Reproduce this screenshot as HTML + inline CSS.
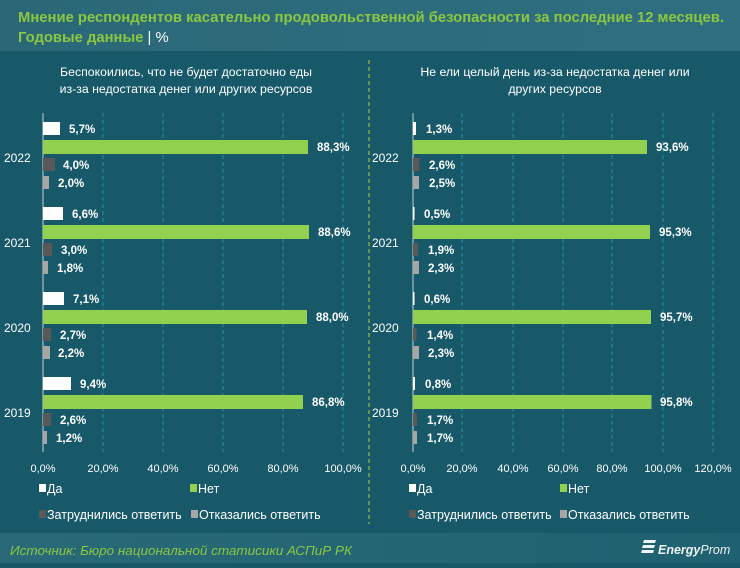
<!DOCTYPE html>
<html><head><meta charset="utf-8"><style>
body{margin:0;width:740px;height:563px;overflow:hidden;background:#175869;font-family:"Liberation Sans",sans-serif}
</style></head><body>
<svg width="740" height="563" xmlns="http://www.w3.org/2000/svg" font-family="Liberation Sans, sans-serif">
<defs>
<linearGradient id="hd" x1="0" x2="1"><stop offset="0" stop-color="#2a6878"/><stop offset="1" stop-color="#2f6f7f"/></linearGradient>
<linearGradient id="ft" x1="0" x2="1"><stop offset="0" stop-color="#2a6a78"/><stop offset="1" stop-color="#1f6170"/></linearGradient>
</defs>
<rect width="740" height="563" fill="#175869"/>
<rect width="740" height="51" fill="url(#hd)"/>
<text x="18" y="22" fill="#8cc83f" font-size="14.8" font-weight="bold" textLength="706" lengthAdjust="spacingAndGlyphs">Мнение респондентов касательно продовольственной безопасности за последние 12 месяцев.</text>
<text x="18" y="42" fill="#8cc83f" font-size="14.8" font-weight="bold">Годовые данные <tspan fill="#fff" font-weight="normal">| %</tspan></text>
<rect y="533" width="740" height="30" fill="url(#ft)"/>
<text x="10" y="555" fill="#8cc83f" font-size="13" font-style="italic" textLength="342" lengthAdjust="spacingAndGlyphs">Источник: Бюро национальной статисики АСПиР РК</text>
<g fill="#eef3f4"><polygon points="644,540 656,540 655,543 643,543"/><polygon points="643,545 655,545 654,548 642,548"/><polygon points="642,550 654,550 653,553 641,553"/></g>
<text x="658" y="554" fill="#eef3f4" font-size="12.5" font-weight="bold" font-style="italic">Energy<tspan font-weight="normal">Prom</tspan></text>
<line x1="369" y1="60" x2="369" y2="524" stroke="#b5d23a" stroke-dasharray="4,3" stroke-width="1"/>
<g fill="#fff" font-size="12.3" text-anchor="middle">
<text x="186" y="76">Беспокоились, что не будет достаточно еды</text>
<text x="186" y="93">из-за недостатка денег или других ресурсов</text>
<text x="555" y="76">Не ели целый день из-за недостатка денег или</text>
<text x="555" y="93">других ресурсов</text>
</g>
<g stroke="#2a91a8" stroke-dasharray="4,3" stroke-width="1">
<line x1="103" y1="113" x2="103" y2="452"/><line x1="163" y1="113" x2="163" y2="452"/><line x1="223" y1="113" x2="223" y2="452"/><line x1="283" y1="113" x2="283" y2="452"/><line x1="343" y1="113" x2="343" y2="452"/>
<line x1="462" y1="113" x2="462" y2="452"/><line x1="513" y1="113" x2="513" y2="452"/><line x1="563" y1="113" x2="563" y2="452"/><line x1="612" y1="113" x2="612" y2="452"/><line x1="663" y1="113" x2="663" y2="452"/><line x1="713" y1="113" x2="713" y2="452"/>
</g>
<line x1="43" y1="113" x2="43" y2="452" stroke="#c8d0d2"/>
<line x1="413" y1="113" x2="413" y2="452" stroke="#c8d0d2"/>
<g fill="#fff" font-size="12"><text x="4" y="162">2022</text><text x="4" y="247">2021</text><text x="4" y="332">2020</text><text x="4" y="417">2019</text>
<text x="372" y="162">2022</text><text x="372" y="247">2021</text><text x="372" y="332">2020</text><text x="372" y="417">2019</text></g>
<g font-size="11" fill="#fff" text-anchor="middle">
<text x="43" y="472">0,0%</text><text x="103" y="472">20,0%</text><text x="163" y="472">40,0%</text><text x="223" y="472">60,0%</text><text x="283" y="472">80,0%</text><text x="343" y="472">100,0%</text>
<text x="413" y="472">0,0%</text><text x="462" y="472">20,0%</text><text x="513" y="472">40,0%</text><text x="563" y="472">60,0%</text><text x="612" y="472">80,0%</text><text x="663" y="472">100,0%</text><text x="713" y="472">120,0%</text>
</g>
<g>
<rect x="43" y="122" width="17" height="13" fill="#fff"/><rect x="43" y="140" width="265" height="14" fill="#92d050"/><rect x="43" y="158" width="12" height="13" fill="#595959"/><rect x="43" y="176" width="6" height="13" fill="#a6a6a6"/>
<rect x="43" y="207" width="20" height="13" fill="#fff"/><rect x="43" y="225" width="266" height="14" fill="#92d050"/><rect x="43" y="243" width="9" height="13" fill="#595959"/><rect x="43" y="261" width="5" height="13" fill="#a6a6a6"/>
<rect x="43" y="292" width="21" height="13" fill="#fff"/><rect x="43" y="310" width="264" height="14" fill="#92d050"/><rect x="43" y="328" width="8" height="13" fill="#595959"/><rect x="43" y="346" width="7" height="13" fill="#a6a6a6"/>
<rect x="43" y="377" width="28" height="13" fill="#fff"/><rect x="43" y="395" width="260" height="14" fill="#92d050"/><rect x="43" y="413" width="8" height="13" fill="#595959"/><rect x="43" y="431" width="4" height="13" fill="#a6a6a6"/>
</g>
<g>
<rect x="413" y="122" width="3" height="13" fill="#fff"/><rect x="413" y="140" width="234" height="14" fill="#92d050"/><rect x="413" y="158" width="6.5" height="13" fill="#595959"/><rect x="413" y="176" width="6" height="13" fill="#a6a6a6"/>
<rect x="413" y="207" width="1.5" height="13" fill="#fff"/><rect x="413" y="225" width="237" height="14" fill="#92d050"/><rect x="413" y="243" width="5" height="13" fill="#595959"/><rect x="413" y="261" width="6" height="13" fill="#a6a6a6"/>
<rect x="413" y="292" width="1.5" height="13" fill="#fff"/><rect x="413" y="310" width="238" height="14" fill="#92d050"/><rect x="413" y="328" width="3.5" height="13" fill="#595959"/><rect x="413" y="346" width="6" height="13" fill="#a6a6a6"/>
<rect x="413" y="377" width="2" height="13" fill="#fff"/><rect x="413" y="395" width="238.5" height="14" fill="#92d050"/><rect x="413" y="413" width="4" height="13" fill="#595959"/><rect x="413" y="431" width="4" height="13" fill="#a6a6a6"/>
</g>
<g fill="#fff" font-size="11.5" font-weight="bold">
<text x="69" y="133">5,7%</text><text x="317" y="151">88,3%</text><text x="63" y="169">4,0%</text><text x="58" y="187">2,0%</text>
<text x="72" y="218">6,6%</text><text x="318" y="236">88,6%</text><text x="61" y="254">3,0%</text><text x="57" y="272">1,8%</text>
<text x="73" y="303">7,1%</text><text x="316" y="321">88,0%</text><text x="60" y="339">2,7%</text><text x="58" y="357">2,2%</text>
<text x="80" y="388">9,4%</text><text x="312" y="406">86,8%</text><text x="60" y="424">2,6%</text><text x="56" y="442">1,2%</text>
<text x="426" y="133">1,3%</text><text x="656" y="151">93,6%</text><text x="429" y="169">2,6%</text><text x="429" y="187">2,5%</text>
<text x="424" y="218">0,5%</text><text x="659" y="236">95,3%</text><text x="428" y="254">1,9%</text><text x="428" y="272">2,3%</text>
<text x="424" y="303">0,6%</text><text x="660" y="321">95,7%</text><text x="427" y="339">1,4%</text><text x="428" y="357">2,3%</text>
<text x="425" y="388">0,8%</text><text x="660" y="406">95,8%</text><text x="427" y="424">1,7%</text><text x="427" y="442">1,7%</text>
</g>
<g font-size="12.5" fill="#fff">
<rect x="39" y="484" width="7" height="8" fill="#fff"/><text x="47" y="493">Да</text>
<rect x="190" y="484" width="7" height="8" fill="#92d050"/><text x="198" y="493">Нет</text>
<rect x="39" y="510" width="7" height="8" fill="#595959"/><text x="47" y="519">Затруднились ответить</text>
<rect x="191" y="510" width="7" height="8" fill="#a6a6a6"/><text x="199" y="519">Отказались ответить</text>
<rect x="409" y="484" width="7" height="8" fill="#fff"/><text x="417" y="493">Да</text>
<rect x="560" y="484" width="7" height="8" fill="#92d050"/><text x="568" y="493">Нет</text>
<rect x="409" y="510" width="7" height="8" fill="#595959"/><text x="417" y="519">Затруднились ответить</text>
<rect x="560" y="510" width="7" height="8" fill="#a6a6a6"/><text x="568" y="519">Отказались ответить</text>
</g>
</svg>
</body></html>
